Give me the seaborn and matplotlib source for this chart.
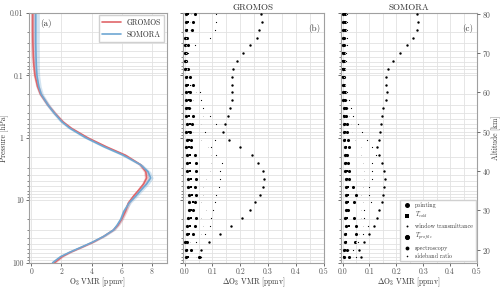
import matplotlib
matplotlib.use("Agg")
import matplotlib.pyplot as plt
import seaborn as sns
from matplotlib.ticker import MultipleLocator, LogLocator, FixedLocator, NullFormatter

# ---------------- data ----------------
pressure = [0.01, 0.02, 0.03, 0.05, 0.07, 0.1, 0.15, 0.2, 0.3, 0.4, 0.55, 0.7, 1.0, 1.4,
            1.9, 2.7, 3.5, 4.4, 5.5, 7.0, 8.5, 11, 15, 20, 25, 30, 38, 47, 56, 68, 80, 100]
gromos_vmr = [0.10, 0.10, 0.11, 0.14, 0.18, 0.25, 0.42, 0.62, 1.12, 1.55, 2.08, 2.65, 3.75, 5.0,
              6.25, 7.25, 7.6, 7.65, 7.45, 7.1, 6.8, 6.45, 6.25, 6.0, 5.75, 5.45, 4.8, 4.1, 3.4,
              2.6, 2.05, 1.55]
gromos_sd = [0.15, 0.15, 0.15, 0.14, 0.13, 0.12, 0.12, 0.12, 0.12, 0.12, 0.12, 0.12, 0.12, 0.12,
             0.13, 0.14, 0.15, 0.15, 0.15, 0.14, 0.13, 0.12, 0.12, 0.12, 0.11, 0.11, 0.1, 0.1,
             0.1, 0.1, 0.1, 0.1]
somora_vmr = [0.30, 0.30, 0.30, 0.32, 0.34, 0.38, 0.50, 0.66, 1.12, 1.52, 2.02, 2.55, 3.62, 4.85,
              6.1, 7.25, 7.75, 7.92, 7.65, 7.25, 6.95, 6.5, 6.15, 5.95, 5.7, 5.45, 4.8, 4.05,
              3.35, 2.55, 1.95, 1.42]
somora_sd = [0.24, 0.24, 0.23, 0.22, 0.2, 0.18, 0.16, 0.15, 0.14, 0.14, 0.14, 0.14, 0.14, 0.14,
             0.15, 0.16, 0.17, 0.17, 0.17, 0.16, 0.15, 0.14, 0.13, 0.13, 0.12, 0.12, 0.12, 0.12,
             0.12, 0.12, 0.12, 0.12]

altitude = [80, 78, 76, 74, 72, 70, 68, 66, 64, 62, 60, 58, 56, 54, 52, 50,
            48, 46, 44, 42, 40, 38, 36, 34, 32, 30, 28, 26, 24, 22, 20, 18]

# GROMOS uncertainty budget [ppmv]
g_spectroscopy = [0.275, 0.277, 0.269, 0.259, 0.235, 0.211, 0.19, 0.175, 0.169, 0.169, 0.169, 0.169,
                  0.163, 0.157, 0.145, 0.139, 0.16, 0.199, 0.241, 0.265, 0.283, 0.287, 0.281, 0.271,
                  0.253, 0.235, 0.205, 0.166, 0.127, 0.088, 0.06, 0.054]
g_window = [0.114, 0.114, 0.108, 0.09, 0.036, 0.012, 0.01, 0.012, 0.015, 0.02, 0.054, 0.06,
            0.066, 0.09, 0.114, 0.072, 0.11, 0.096, 0.114, 0.133, 0.127, 0.127, 0.124, 0.114,
            0.108, 0.102, 0.096, 0.09, 0.072, 0.042, 0.024, 0.06]
g_sideband = [0.024, 0.02, 0.018, 0.004, 0.006, 0.004, 0.004, 0.008, 0.012, 0.024, 0.042, 0.03,
              0.024, 0.066, 0.06, 0.03, 0.06, 0.084, 0.096, 0.096, 0.09, 0.078, 0.066, 0.066,
              0.06, 0.078, 0.06, 0.066, 0.06, 0.018, 0.012, 0.042]
g_pointing = [0.036, 0.03, 0.025, 0.008, 0.012, 0.006, 0.006, 0.012, 0.018, 0.03, 0.02, 0.02,
              0.015, 0.03, 0.025, 0.02, 0.024, 0.024, 0.036, 0.042, 0.042, 0.042, 0.036, 0.042,
              0.036, 0.03, 0.042, 0.036, 0.03, 0.01, 0.024, 0.05]
g_tcold = [0.012, 0.012, 0.01, 0.006, 0.004, 0.004, 0.004, 0.006, 0.008, 0.012, 0.014, 0.015,
           0.012, 0.016, 0.018, 0.014, 0.016, 0.014, 0.02, 0.018, 0.02, 0.024, 0.024, 0.028,
           0.03, 0.024, 0.024, 0.02, 0.016, 0.006, 0.01, 0.012]
g_tprofile = [0.004, 0.004, 0.004, 0.002, 0.002, 0.002, 0.002, 0.003, 0.004, 0.005, 0.006, 0.006,
              0.005, 0.006, 0.008, 0.006, 0.008, 0.006, 0.01, 0.008, 0.01, 0.012, 0.012, 0.014,
              0.016, 0.014, 0.012, 0.01, 0.008, 0.003, 0.004, 0.005]

# SOMORA uncertainty budget [ppmv]
s_spectroscopy = [0.275, 0.28, 0.275, 0.262, 0.24, 0.212, 0.188, 0.169, 0.163, 0.163, 0.164, 0.161,
                  0.151, 0.148, 0.142, 0.139, 0.136, 0.128, 0.135, 0.148, 0.154, 0.158, 0.154, 0.152,
                  0.148, 0.136, 0.127, 0.117, 0.099, 0.078, 0.062, 0.068]
s_window = [0.018, 0.016, 0.016, 0.016, 0.015, 0.014, 0.012, 0.01, 0.008, 0.01, 0.018, 0.022,
            0.031, 0.04, 0.056, 0.072, 0.09, 0.111, 0.126, 0.111, 0.111, 0.111, 0.099, 0.099,
            0.105, 0.08, 0.08, 0.093, 0.074, 0.056, 0.037, 0.049]
s_sideband = [0.012, 0.012, 0.012, 0.011, 0.011, 0.01, 0.009, 0.008, 0.007, 0.008, 0.012, 0.016,
              0.02, 0.025, 0.031, 0.035, 0.047, 0.068, 0.068, 0.074, 0.08, 0.08, 0.074, 0.068,
              0.074, 0.068, 0.068, 0.074, 0.062, 0.049, 0.025, 0.037]
s_pointing = [0.008, 0.008, 0.008, 0.007, 0.007, 0.006, 0.006, 0.005, 0.005, 0.006, 0.008, 0.01,
              0.012, 0.012, 0.016, 0.016, 0.02, 0.025, 0.018, 0.02, 0.022, 0.025, 0.037, 0.049,
              0.043, 0.02, 0.043, 0.049, 0.049, 0.045, 0.016, 0.025]
s_tcold = [0.004, 0.004, 0.004, 0.004, 0.004, 0.003, 0.003, 0.003, 0.003, 0.004, 0.005, 0.006,
           0.008, 0.006, 0.008, 0.008, 0.01, 0.012, 0.016, 0.014, 0.016, 0.018, 0.02, 0.02,
           0.02, 0.018, 0.016, 0.025, 0.012, 0.012, 0.008, 0.006]
s_tprofile = [0.002, 0.002, 0.002, 0.002, 0.002, 0.002, 0.002, 0.002, 0.002, 0.002, 0.003, 0.003,
              0.004, 0.004, 0.005, 0.005, 0.006, 0.008, 0.008, 0.01, 0.01, 0.012, 0.012, 0.012,
              0.012, 0.012, 0.01, 0.012, 0.01, 0.008, 0.004, 0.004]

source_labels = ["pointing", r"$T_{cold}$", "window transmittance", r"$T_{profile}$",
                 "spectroscopy", "sideband ratio"]
gromos_err = [g_pointing, g_tcold, g_window, g_tprofile, g_spectroscopy, g_sideband]
somora_err = [s_pointing, s_tcold, s_window, s_tprofile, s_spectroscopy, s_sideband]

p_ticks = [0.01, 0.1, 1, 10, 100]
p_ticklabels = ["0.01", "0.1", "1", "10", "100"]
vmr_ticks = [0, 2, 4, 6, 8]
err_ticks = [0.0, 0.1, 0.2, 0.3, 0.4, 0.5]
alt_ticks = [20, 30, 40, 50, 60, 70, 80]

# ---------------- style ----------------
sns.set_theme(style="whitegrid")
plt.rcParams.update({
    "font.family": ["cmr10", "DejaVu Serif"],
    "mathtext.fontset": "cm",
    "axes.unicode_minus": False,
    "axes.formatter.use_mathtext": True,
    "axes.edgecolor": "#a0a0a0",
    "axes.linewidth": 0.8,
    "grid.color": "#e2e2e2",
    "grid.linewidth": 0.6,
    "xtick.color": "#555555",
    "ytick.color": "#555555",
    "text.color": "#333333",
    "axes.labelcolor": "#333333",
})

red = "#e0666a"
blue = "#6ea7d3"
markers = ["o", "s", ".", "8", "o", "."]
msizes = [5, 4, 3, 6, 3, 2]

fig = plt.figure(figsize=(5, 2.88), dpi=100)
ax_a = fig.add_axes([0.057, 0.088, 0.276, 0.867])
ax_b = fig.add_axes([0.366, 0.088, 0.281, 0.867], sharey=ax_a)
ax_c = fig.add_axes([0.682, 0.088, 0.272, 0.867], sharey=ax_a)

# ---------------- panel (a) ----------------
ax_a.fill_betweenx(pressure, [v - s for v, s in zip(gromos_vmr, gromos_sd)],
                   [v + s for v, s in zip(gromos_vmr, gromos_sd)], color=red, alpha=0.3, lw=0)
ax_a.fill_betweenx(pressure, [v - s for v, s in zip(somora_vmr, somora_sd)],
                   [v + s for v, s in zip(somora_vmr, somora_sd)], color=blue, alpha=0.3, lw=0)
sns.lineplot(x=gromos_vmr, y=pressure, orient="y", color=red, lw=1.2, label="GROMOS", ax=ax_a)
sns.lineplot(x=somora_vmr, y=pressure, orient="y", color=blue, lw=1.2, label="SOMORA", ax=ax_a)

ax_a.set_yscale("log")
ax_a.set_ylim(100, 0.01)
ax_a.set_xlim(-0.18, 8.97)
ax_a.xaxis.set_major_locator(FixedLocator(vmr_ticks))
ax_a.set_xticklabels([str(t) for t in vmr_ticks])
ax_a.yaxis.set_major_locator(FixedLocator(p_ticks))
ax_a.set_yticklabels(p_ticklabels)
ax_a.yaxis.set_minor_locator(LogLocator(base=10, subs=(2, 3, 4, 5, 6, 7, 8, 9), numticks=20))
ax_a.yaxis.set_minor_formatter(NullFormatter())
ax_a.set_ylabel("Pressure [hPa]", fontsize=5.5, labelpad=1)
ax_a.set_xlabel(r"O$_3$ VMR [ppmv]", fontsize=5.5, labelpad=0)
ax_a.legend(loc="upper right", fontsize=5.5, frameon=True, framealpha=1, edgecolor="#d0d0d0",
            handlelength=2.4, borderaxespad=0.3, fancybox=False)
ax_a.text(0.085, 0.975, "(a)", transform=ax_a.transAxes, va="top", ha="left", fontsize=6.5)

# ---------------- panels (b), (c) ----------------
for ax, err, title, tag in [(ax_b, gromos_err, "GROMOS", "(b)"), (ax_c, somora_err, "SOMORA", "(c)")]:
    tw = ax.twinx()
    tw.set_ylim(16.66, 80.25)
    tw.grid(False)
    for vals, lab, mk, ms in zip(err, source_labels, markers, msizes):
        sns.scatterplot(x=vals, y=altitude, marker=mk, s=ms, color="black", linewidth=0,
                        label=lab, ax=tw, legend=False)
    ax.set_xlim(-0.006, 0.5)
    ax.xaxis.set_major_locator(FixedLocator(err_ticks))
    ax.set_xticklabels([f"{t:.1f}" for t in err_ticks])
    ax.xaxis.set_minor_locator(MultipleLocator(0.05))
    ax.grid(which="minor", axis="x", color="#e2e2e2", lw=0.6)
    ax.tick_params(labelleft=False)
    ax.set_xlabel(r"$\Delta$O$_3$ VMR [ppmv]", fontsize=5.5, labelpad=0)
    ax.set_title(title, fontsize=6.5, pad=2)
    ax.text(0.975, 0.955, tag, transform=ax.transAxes, va="top", ha="right", fontsize=6.5)
    for sp in tw.spines.values():
        sp.set_visible(False)
    if ax is ax_c:
        tw.yaxis.set_major_locator(FixedLocator(alt_ticks))
        tw.tick_params(axis="y", labelsize=5.5, length=2.5, width=0.6, right=True, pad=1)
        tw.set_ylabel("Altitude [km]", fontsize=5.5, labelpad=0.5)
        handles, labels = tw.get_legend_handles_labels()
        tw.legend(handles, labels, loc="lower right", fontsize=4.3, frameon=True, framealpha=1,
                  edgecolor="#d0d0d0", markerscale=1.6, labelspacing=0.4, borderaxespad=0.25,
                  fancybox=False, handletextpad=0.6, handlelength=1.6, borderpad=0.4)
    else:
        tw.set_yticks([])
        tw.tick_params(right=False, labelright=False)

for ax in (ax_a, ax_b, ax_c):
    ax.grid(which="major", color="#e2e2e2", lw=0.6)
    ax.grid(which="minor", axis="y", color="#e2e2e2", lw=0.6)
    ax.set_axisbelow(True)
    ax.tick_params(axis="both", which="major", labelsize=5.5, length=2.5, width=0.6,
                   bottom=True, left=True, pad=1)
    ax.tick_params(axis="y", which="minor", length=1.5, width=0.5, left=True)

fig.savefig("out.png", dpi=100)
